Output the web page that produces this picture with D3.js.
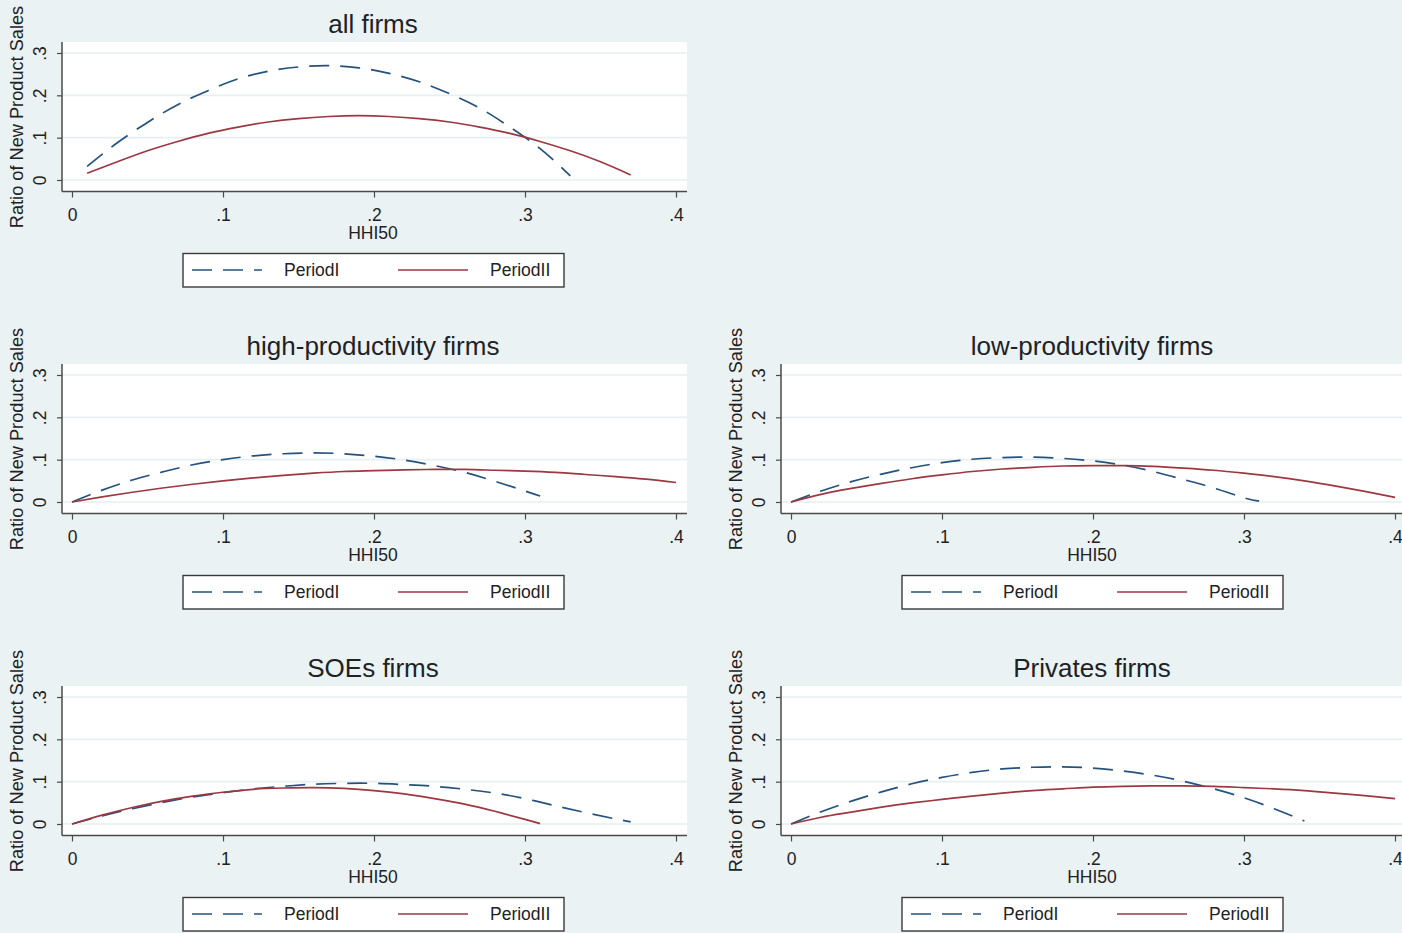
<!DOCTYPE html>
<html>
<head>
<meta charset="utf-8">
<script src="https://cdn.jsdelivr.net/npm/d3@7/dist/d3.min.js"></script>
<style>
  html, body { margin: 0; padding: 0; background: #eaf2f3; }
  svg { display: block; }
  text { font-family: "Liberation Sans", Arial, sans-serif; fill: #1e2226; }
</style>
</head>
<body>
<svg id="chart" width="1402" height="933"></svg>
<script>
// ---------------- data ----------------
const panelTitles = ["all firms", "high-productivity firms", "low-productivity firms", "SOEs firms", "Privates firms"];
const seriesNames = ["PeriodI", "PeriodII"];
const xTickValues = [0, 0.1, 0.2, 0.3, 0.4];
const xTickLabels = ["0", ".1", ".2", ".3", ".4"];
const yTickValues = [0, 0.1, 0.2, 0.3];
const yTickLabels = ["0", ".1", ".2", ".3"];
const xTitle = "HHI50";
const yTitle = "Ratio of New Product Sales";

// all firms
const allX1 = [0.01,0.03,0.05,0.07,0.09,0.11,0.13,0.15,0.17,0.19,0.21,0.23,0.25,0.27,0.29,0.31,0.33];
const allY1 = [0.032,0.088,0.136,0.178,0.211,0.239,0.257,0.267,0.270,0.265,0.252,0.232,0.204,0.170,0.125,0.074,0.010];
const allX2 = [0.01,0.03,0.05,0.07,0.09,0.11,0.13,0.15,0.17,0.19,0.21,0.23,0.25,0.27,0.29,0.31,0.33,0.35,0.37];
const allY2 = [0.016,0.043,0.069,0.091,0.110,0.125,0.137,0.145,0.150,0.152,0.150,0.145,0.137,0.125,0.110,0.091,0.069,0.043,0.012];

// high-productivity firms
const highX1 = [0,0.02,0.04,0.06,0.08,0.10,0.12,0.14,0.16,0.18,0.20,0.22,0.24,0.26,0.28,0.30,0.31];
const highY1 = [0,0.028,0.052,0.071,0.088,0.100,0.109,0.114,0.116,0.114,0.108,0.099,0.086,0.070,0.049,0.026,0.014];
const highX2 = [0,0.02,0.04,0.06,0.08,0.10,0.12,0.14,0.16,0.18,0.20,0.22,0.24,0.26,0.28,0.30,0.32,0.34,0.36,0.38,0.40];
const highY2 = [0,0.012,0.023,0.033,0.042,0.050,0.057,0.063,0.068,0.072,0.074,0.076,0.077,0.077,0.075,0.073,0.070,0.065,0.060,0.054,0.046];

// low-productivity firms
const lowX1 = [0,0.02,0.04,0.06,0.08,0.10,0.12,0.14,0.16,0.18,0.20,0.22,0.24,0.26,0.28,0.30,0.31];
const lowY1 = [0,0.026,0.048,0.066,0.081,0.093,0.101,0.105,0.106,0.103,0.097,0.087,0.072,0.053,0.033,0.010,0.002];
const lowX2 = [0,0.02,0.04,0.06,0.08,0.10,0.12,0.14,0.16,0.18,0.20,0.22,0.24,0.26,0.28,0.30,0.32,0.34,0.36,0.38,0.40];
const lowY2 = [0,0.018,0.032,0.044,0.055,0.064,0.072,0.078,0.082,0.085,0.086,0.086,0.084,0.080,0.075,0.068,0.060,0.050,0.038,0.025,0.011];

// SOEs firms
const soeX1 = [0,0.02,0.04,0.06,0.08,0.10,0.12,0.14,0.16,0.18,0.20,0.22,0.24,0.26,0.28,0.30,0.32,0.34,0.36,0.37];
const soeY1 = [0,0.019,0.036,0.051,0.064,0.074,0.083,0.089,0.094,0.096,0.096,0.093,0.089,0.082,0.073,0.060,0.043,0.027,0.012,0.005];
const soeX2 = [0,0.02,0.04,0.06,0.08,0.10,0.12,0.14,0.16,0.18,0.20,0.22,0.24,0.26,0.28,0.30,0.31];
const soeY2 = [0,0.021,0.039,0.054,0.066,0.075,0.082,0.085,0.086,0.084,0.079,0.071,0.060,0.047,0.030,0.011,0.001];

// Privates firms
const privX1 = [0,0.02,0.04,0.06,0.08,0.10,0.12,0.14,0.16,0.18,0.20,0.22,0.24,0.26,0.28,0.30,0.32,0.34];
const privY1 = [0,0.029,0.054,0.076,0.095,0.110,0.122,0.130,0.134,0.135,0.132,0.125,0.115,0.101,0.083,0.062,0.036,0.007];
const privX2 = [0,0.02,0.04,0.06,0.08,0.10,0.12,0.14,0.16,0.18,0.20,0.22,0.24,0.26,0.28,0.30,0.32,0.34,0.36,0.38,0.40];
const privY2 = [0,0.016,0.028,0.040,0.050,0.058,0.066,0.073,0.079,0.083,0.087,0.089,0.090,0.090,0.089,0.086,0.083,0.079,0.073,0.067,0.060];

// ---------------- build ----------------
const zip = (xs, ys) => xs.map((x, i) => ({x, y: ys[i]}));
const panels = [
  {title: panelTitles[0], col: 0, row: 0, s1: zip(allX1, allY1), s2: zip(allX2, allY2)},
  {title: panelTitles[1], col: 0, row: 1, s1: zip(highX1, highY1), s2: zip(highX2, highY2)},
  {title: panelTitles[2], col: 1, row: 1, s1: zip(lowX1, lowY1), s2: zip(lowX2, lowY2)},
  {title: panelTitles[3], col: 0, row: 2, s1: zip(soeX1, soeY1), s2: zip(soeX2, soeY2)},
  {title: panelTitles[4], col: 1, row: 2, s1: zip(privX1, privY1), s2: zip(privX2, privY2)}
];

const colors = ["#24527d", "#9c3842"];
const dashes = ["20,11", null];
const colDX = 719, rowDY = 322;

const svg = d3.select("#chart");
svg.append("rect").attr("width", 1402).attr("height", 933).attr("fill", "#eaf2f3");

panels.forEach(p => {
  const ox = p.col * colDX, oy = p.row * rowDY;
  const g = svg.append("g").attr("transform", `translate(${ox},${oy})`);

  const x = d3.scaleLinear().domain([0, 0.4]).range([72, 676]);
  const y = d3.scaleLinear().domain([0, 0.3]).range([180, 53]);

  // plot region
  g.append("rect").attr("x", 62).attr("y", 42).attr("width", 625).attr("height", 149).attr("fill", "#ffffff");

  // gridlines
  g.selectAll("line.grid").data(yTickValues).join("line")
    .attr("x1", 62).attr("x2", 687)
    .attr("y1", d => y(d)).attr("y2", d => y(d))
    .attr("stroke", "#e6eff1").attr("stroke-width", 1.6);

  // series
  const line = d3.line().x(d => x(d.x)).y(d => y(d.y)).curve(d3.curveNatural);
  [p.s1, p.s2].forEach((s, i) => {
    g.append("path").datum(s).attr("d", line)
      .attr("fill", "none").attr("stroke", colors[i]).attr("stroke-width", 1.7)
      .attr("stroke-dasharray", dashes[i]);
  });

  // y axis
  const yAxis = d3.axisLeft(y).tickValues(yTickValues).tickSize(5).tickFormat((d, i) => yTickLabels[i]);
  const ya = g.append("g").attr("transform", "translate(62,0)").call(yAxis);
  ya.select(".domain").attr("d", "M0,42V191.5").attr("stroke", "#4a4a4a").attr("stroke-width", 1.5);
  ya.selectAll(".tick line").attr("stroke", "#4a4a4a").attr("stroke-width", 1.2);
  ya.selectAll(".tick text")
    .attr("x", null).attr("dy", null)
    .attr("transform", "translate(-21,0) rotate(-90)")
    .attr("text-anchor", "middle").attr("dominant-baseline", "middle")
    .style("font-size", "17.5px").style("font-family", "Liberation Sans, Arial, sans-serif").attr("fill", "#1e2226");

  // x axis
  const xAxis = d3.axisBottom(x).tickValues(xTickValues).tickSize(6).tickFormat((d, i) => xTickLabels[i]);
  const xa = g.append("g").attr("transform", "translate(0,191.5)").call(xAxis);
  xa.select(".domain").attr("d", "M62,0H687").attr("stroke", "#4a4a4a").attr("stroke-width", 1.5);
  xa.selectAll(".tick line").attr("stroke", "#4a4a4a").attr("stroke-width", 1.2);
  xa.selectAll(".tick text").attr("y", 23).attr("dy", "0.35em")
    .style("font-size", "17.5px").style("font-family", "Liberation Sans, Arial, sans-serif").attr("fill", "#1e2226");

  // axis titles
  g.append("text").attr("x", 373).attr("y", 234).attr("text-anchor", "middle").attr("dominant-baseline", "middle")
    .style("font-size", "17.5px").text(xTitle);
  g.append("text").attr("transform", "translate(18,117) rotate(-90)").attr("text-anchor", "middle")
    .attr("dominant-baseline", "middle").style("font-size", "18.2px").text(yTitle);

  // panel title
  g.append("text").attr("x", 373).attr("y", 26.5).attr("text-anchor", "middle").attr("dominant-baseline", "middle")
    .style("font-size", "26px").text(p.title);

  // legend
  const lg = g.append("g");
  lg.append("rect").attr("x", 183).attr("y", 253.5).attr("width", 381).attr("height", 33.5)
    .attr("fill", "#ffffff").attr("stroke", "#3a3a3a").attr("stroke-width", 1.4);
  const lx = [192, 398], tx = [284, 490];
  seriesNames.forEach((name, i) => {
    lg.append("line").attr("x1", lx[i]).attr("x2", lx[i] + 70).attr("y1", 270).attr("y2", 270)
      .attr("stroke", colors[i]).attr("stroke-width", 1.7).attr("stroke-dasharray", dashes[i]);
    lg.append("text").attr("x", tx[i]).attr("y", 271.5).attr("dominant-baseline", "middle")
      .style("font-size", "17.5px").text(name);
  });
});
</script>
</body>
</html>
